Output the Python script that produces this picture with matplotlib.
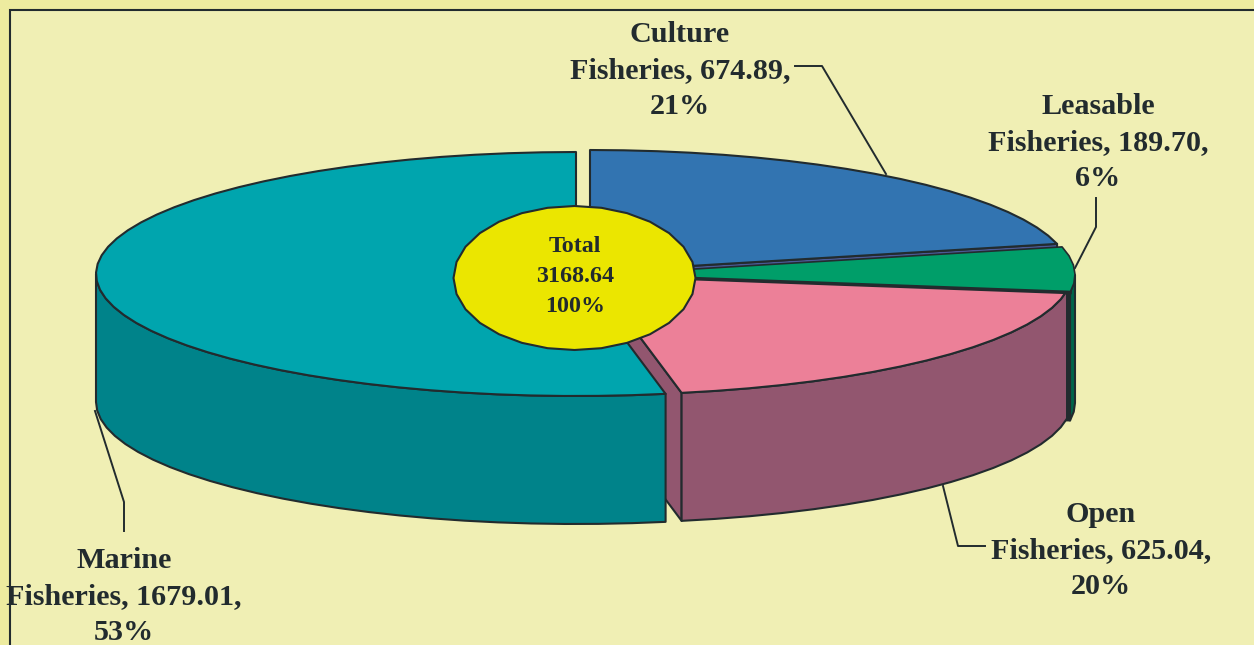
import numpy as np
import matplotlib
matplotlib.use("Agg")
import matplotlib.pyplot as plt
from matplotlib.patches import Polygon, Rectangle

names = ["Culture", "Leasable", "Open", "Marine"]
values = [674.89, 189.70, 625.04, 1679.01]
total_value = 3168.64

top_colors = ["#3274B1", "#009E69", "#EC8098", "#00A5AE"]
side_colors = ["#4B5A96", "#00654A", "#92566F", "#00838A"]
INK = "#222B2E"
BG = "#F0EFB4"
OUTER = "#EDEB9F"

# pie geometry in pixels
RX, RY, DEPTH = 480, 122, 128
centers = [(590, 272), (595, 275), (592, 273), (576, 274)]

fractions = np.array(values) / total_value
edges = np.concatenate([[0], np.cumsum(fractions) * 2 * np.pi])

fig = plt.figure(figsize=(12.54, 6.45), dpi=100, facecolor=OUTER)
ax = fig.add_axes([0, 0, 1, 1])
ax.set_xlim(0, 1254)
ax.set_ylim(645, 0)
ax.axis("off")

ax.add_patch(Rectangle((9.5, 9.5), 1300, 700, fc=BG, ec=INK, lw=1.5, zorder=0))


def rim(i, a, b):
    n = max(2, int((b - a) / np.radians(4)) + 1)
    t = np.linspace(a, b, n)
    cx, cy = centers[i]
    return np.column_stack([cx + RX * np.sin(t), cy - RY * np.cos(t)])


def draw(pts, color, z, lw=1.5):
    ax.add_patch(Polygon(pts, closed=True, fc=color, ec=INK, lw=lw, joinstyle="round", zorder=z))


def cut_wall(i, t, color, z):
    cx, cy = centers[i]
    p = rim(i, t, t)[0]
    draw([(cx, cy), p, (p[0], p[1] + DEPTH), (cx, cy + DEPTH)], color, z)


def outer_wall(i, a, b, z):
    r = rim(i, a, b)
    low = r[::-1] + [0, DEPTH]
    draw(np.vstack([r, low]), side_colors[i], z)


def top(i, z, lw=1.5):
    r = rim(i, edges[i], edges[i + 1])
    draw(np.vstack([[centers[i]], r]), top_colors[i], z, lw)


# back to front
cut_wall(0, edges[1], side_colors[0], 1)
top(0, 2)
cut_wall(1, edges[2], INK, 3)
outer_wall(1, np.pi / 2, edges[2], 4)
cut_wall(2, edges[3], side_colors[2], 5)
outer_wall(2, edges[2], edges[3], 6)
top(2, 7)
top(1, 8, lw=1.2)

# heavy line under the leasable slice
end = rim(1, edges[2], edges[2])[0]
ax.plot([centers[1][0], end[0]], [centers[1][1], end[1]], color=INK, lw=2.6, zorder=8.5)

outer_wall(3, edges[3], 1.5 * np.pi, 9)
top(3, 10)

# total ellipse in the middle
t = np.linspace(0, 2 * np.pi, 29)[:-1]
draw(np.column_stack([574.5 + 121 * np.sin(t), 278 + 72 * np.cos(t)]), "#EBE600", 11, lw=1.5)

# leader lines
leaders = [
    ([795, 822, 886], [66, 66, 174]),
    ([1096, 1096, 1075], [198, 227, 268]),
    ([943, 958, 985], [486, 546, 546]),
    ([95, 124, 124], [411, 502, 531]),
]
for xs, ys in leaders:
    ax.plot(xs, ys, color=INK, lw=1.4, zorder=12)

# labels
label_pos = [(680, 34), (1098, 106), (1101, 514), (124, 560)]
for name, v, f, (x, y) in zip(names, values, fractions, label_pos):
    lines = [name, f"Fisheries, {v:.2f},", f"{f * 100:.0f}%"]
    for k, line in enumerate(lines):
        ax.text(x, y + k * 36.2, line, family="Liberation Serif", weight="bold", fontsize=21.7,
                color=INK, ha="center", va="center", zorder=13)

total_lines = ["Total", f"{total_value:.2f}", "100%"]
for k, line in enumerate(total_lines):
    ax.text(575, 247 + k * 29.5, line, family="Liberation Serif", weight="bold", fontsize=17.3,
            color=INK, ha="center", va="center", zorder=13)

fig.savefig("out.png", dpi=100, facecolor=OUTER)
